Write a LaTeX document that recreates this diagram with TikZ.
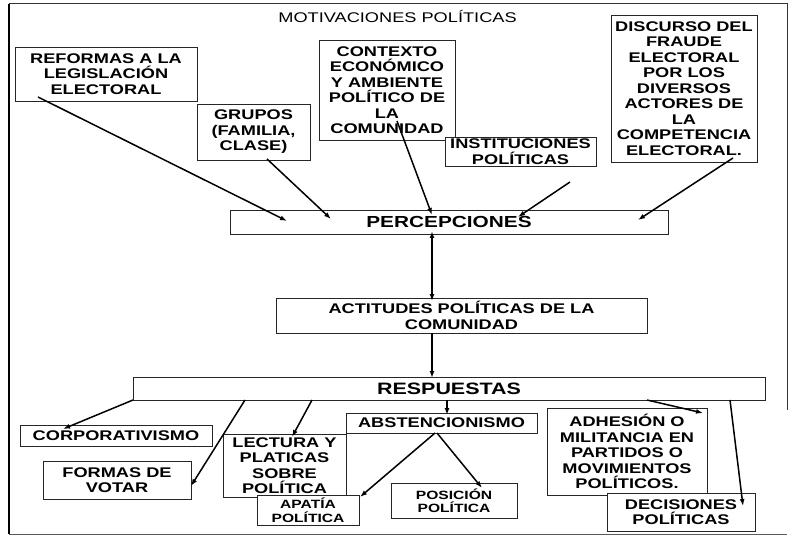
\documentclass[tikz,border=0pt]{standalone}
\usepackage{fontspec}
\setmainfont{Liberation Sans}[FakeStretch=1.3]
\usetikzlibrary{arrows.meta}
\tikzset{
  box/.style={draw=black!85, fill=white, line width=0.7pt, inner sep=0pt, align=center,
    font=\bfseries\fontsize{14}{15.5}\selectfont},
  tip/.tip={Latex[length=7pt,width=5pt]},
  conn/.style={line width=1.5pt, -tip},
  frame/.style={line width=1pt, black!80}
}
\begin{document}
\begin{tikzpicture}[x=1pt,y=-1pt]
\useasboundingbox (0,0) rectangle (789,537);
% outer frame
\coordinate (ftl) at (9,4);
\coordinate (ftr) at (787,4);
\coordinate (fbl) at (9,534);
\coordinate (fbr) at (787,534);
\coordinate (frb) at (787,410);
\draw[frame] (ftl) -- (ftr) -- (frb);
\draw[frame, black!65] (fbl) -- (fbr);
\draw[line width=2.6pt] (ftl) -- (fbl);

\node[font=\fontsize{14}{16}\selectfont] (title) at (397.5,17) {MOTIVACIONES POLÍTICAS};

\node[box, minimum width=182pt, minimum height=54pt] (ref) at (106,74) {REFORMAS A LA\\LEGISLACIÓN\\ELECTORAL};
\node[box, minimum width=113pt, minimum height=56pt] (grp) at (253.5,132) {GRUPOS\\(FAMILIA,\\CLASE)};
\node[box, minimum width=136pt, minimum height=100pt] (ctx) at (387,90) {CONTEXTO\\ECONÓMICO\\Y AMBIENTE\\POLÍTICO DE\\LA\\COMUNIDAD};
\node[box, minimum width=151pt, minimum height=29pt, text depth=-4pt] (ins) at (520.5,151.5) {INSTITUCIONES\\POLÍTICAS};
\node[box, minimum width=146pt, minimum height=147pt] (dis) at (684,88.5) {DISCURSO DEL\\FRAUDE\\ELECTORAL\\POR LOS\\DIVERSOS\\ACTORES DE\\LA\\COMPETENCIA\\ELECTORAL.};
\node[box, minimum width=438pt, minimum height=24pt, font=\bfseries\fontsize{16}{18}\selectfont] (per) at (449,222) {PERCEPCIONES};
\node[box, minimum width=371pt, minimum height=35pt] (act) at (461.5,315.5) {ACTITUDES POLÍTICAS DE LA\\COMUNIDAD};
\node[box, minimum width=632pt, minimum height=23pt, font=\bfseries\fontsize{16.5}{18}\selectfont] (res) at (449,388.5) {RESPUESTAS};
\node[box, minimum width=192pt, minimum height=21pt] (cor) at (116,435.5) {CORPORATIVISMO};
\node[box, minimum width=148pt, minimum height=38pt] (for) at (117,480) {FORMAS DE\\VOTAR};
\node[box, minimum width=123pt, minimum height=63pt] (lec) at (284.5,465.5) {LECTURA Y\\PLATICAS\\SOBRE\\POLÍTICA};
\node[box, minimum width=191pt, minimum height=20pt] (abs) at (441.5,423) {ABSTENCIONISMO};
\node[box, minimum width=102pt, minimum height=30pt, font=\bfseries\fontsize{12}{14}\selectfont] (apa) at (308,510) {APATÍA\\POLÍTICA};
\node[box, minimum width=126pt, minimum height=35pt, font=\bfseries\fontsize{12}{13.5}\selectfont] (pos) at (454,500.5) {POSICIÓN\\POLÍTICA};
\node[box, minimum width=160pt, minimum height=87pt] (adh) at (627,451.5) {ADHESIÓN O\\MILITANCIA EN\\PARTIDOS O\\MOVIMIENTOS\\POLÍTICOS.};
\node[box, minimum width=148pt, minimum height=38pt] (dec) at (681,512) {DECISIONES\\POLÍTICAS};

% connector end points
\coordinate (r1) at (38,97);    \coordinate (r2) at (287,221);
\coordinate (g1) at (267,159);  \coordinate (g2) at (331,219);
\coordinate (c1) at (397,121);  \coordinate (c2) at (432,215);
\coordinate (i1) at (570,182);  \coordinate (i2) at (518,217);
\coordinate (d1) at (733,158);  \coordinate (d2) at (638,220);
\coordinate (pa1) at (432,231); \coordinate (pa2) at (432,301);
\coordinate (ar1) at (432,333); \coordinate (ar2) at (432,378);
\coordinate (ra1) at (447,400); \coordinate (ra2) at (447,415);
\coordinate (rc1) at (133,400); \coordinate (rc2) at (63,429);
\coordinate (rf1) at (245,400); \coordinate (rf2) at (191,486);
\coordinate (rl1) at (312,400); \coordinate (rl2) at (292,437);
\coordinate (rh1) at (647,400); \coordinate (rh2) at (703,413);
\coordinate (rd1) at (730,400); \coordinate (rd2) at (743,506);
\coordinate (ab1) at (435,433); \coordinate (ab2) at (360,497);
\coordinate (ap1) at (437,433); \coordinate (ap2) at (482,488);

\draw[conn] (r1) -- (r2);
\draw[conn] (g1) -- (g2);
\draw[conn] (c1) -- (c2);
\draw[conn] (i1) -- (i2);
\draw[conn] (d1) -- (d2);
\draw[conn, tip-tip] (pa1) -- (pa2);
\draw[conn] (ar1) -- (ar2);
\draw[conn] (ra1) -- (ra2);
\draw[conn] (rc1) -- (rc2);
\draw[conn] (rf1) -- (rf2);
\draw[conn] (rl1) -- (rl2);
\draw[conn] (rh1) -- (rh2);
\draw[conn] (rd1) -- (rd2);
\draw[conn] (ab1) -- (ab2);
\draw[conn] (ap1) -- (ap2);
\end{tikzpicture}
\end{document}
